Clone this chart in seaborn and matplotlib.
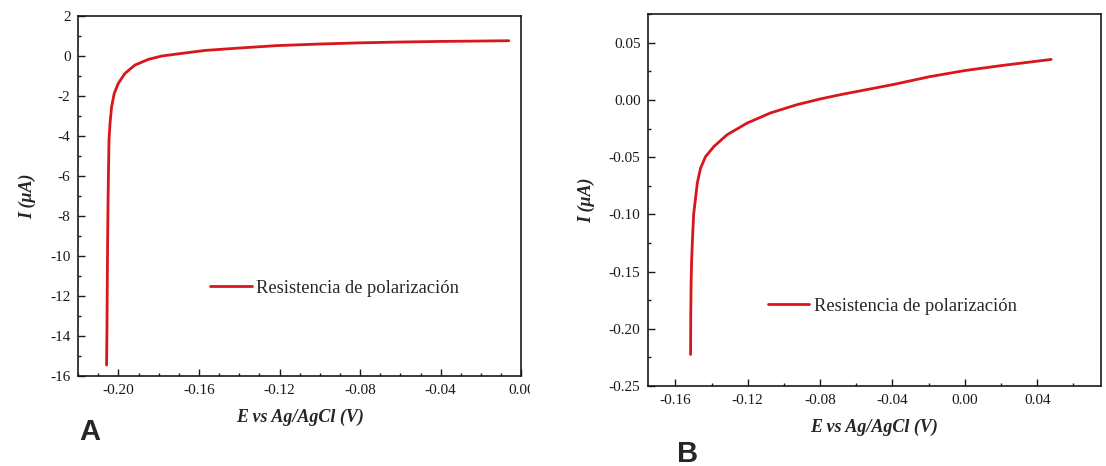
import numpy as np
import pandas as pd
import matplotlib
matplotlib.use("Agg")
import matplotlib.pyplot as plt
from matplotlib.ticker import MultipleLocator, FormatStrFormatter
from matplotlib.transforms import Bbox, TransformedBbox
import seaborn as sns

# Panel A data (E in V, I in uA)
E_a = [-0.2059, -0.2057, -0.2056, -0.2054, -0.2052, -0.2050, -0.2047, -0.2042, -0.2034,
       -0.2021, -0.2001, -0.1968, -0.1918, -0.1852, -0.1786, -0.1687, -0.1570, -0.1400,
       -0.1215, -0.1000, -0.0800, -0.0600, -0.0400, -0.0200, -0.0062]
I_a = [-15.45, -13.5, -12.0, -9.45, -7.5, -6.0, -4.2, -3.37, -2.53,
       -1.87, -1.37, -0.87, -0.45, -0.17, 0.0, 0.13, 0.28, 0.40,
       0.52, 0.60, 0.66, 0.70, 0.73, 0.75, 0.765]

# Panel B data
E_b = [-0.1516, -0.1515, -0.1513, -0.1510, -0.1505, -0.1499, -0.1494, -0.1479, -0.1461,
       -0.1433, -0.1387, -0.1314, -0.1203, -0.1075, -0.0927, -0.0798, -0.0688, -0.0398,
       -0.0199, 0.0001, 0.0200, 0.0400, 0.0477]
I_b = [-0.2225, -0.190, -0.160, -0.140, -0.120, -0.100, -0.0933, -0.0728, -0.0597,
       -0.0495, -0.0407, -0.0304, -0.0202, -0.0114, -0.0041, 0.0009, 0.0046, 0.0134,
       0.0202, 0.0257, 0.0300, 0.0339, 0.0354]

xticks_a = [-0.20, -0.16, -0.12, -0.08, -0.04, 0.00]
yticks_a = [-16, -14, -12, -10, -8, -6, -4, -2, 0, 2]
xticks_b = [-0.16, -0.12, -0.08, -0.04, 0.00, 0.04]
yticks_b = [-0.25, -0.20, -0.15, -0.10, -0.05, 0.00, 0.05]

legend_label = "Resistencia de polarización"
xlabel = "E vs Ag/AgCl (V)"
ylabel = "I (μA)"

sns.set_style("ticks")
plt.rcParams['font.family'] = ['Liberation Serif', 'DejaVu Serif']

fig = plt.figure(figsize=(11.06, 4.66), dpi=100)
axA = fig.add_axes([0.0707, 0.1931, 0.4006, 0.7725])
axB = fig.add_axes([0.5861, 0.1717, 0.4090, 0.798])

red = "#d8161c"

dfA = pd.DataFrame({"E": E_a, "I": I_a, "s": legend_label})
dfB = pd.DataFrame({"E": E_b, "I": I_b, "s": legend_label})

sns.lineplot(data=dfA, x="E", y="I", hue="s", palette=[red], sort=False,
             linewidth=2.0, ax=axA, estimator=None)
sns.lineplot(data=dfB, x="E", y="I", hue="s", palette=[red], sort=False,
             linewidth=2.0, ax=axB, estimator=None)

def style(ax, xlim, ylim, xt, yt, xminor, yminor, xfmt, yfmt, leg_anchor):
    ax.set_xlim(*xlim)
    ax.set_ylim(*ylim)
    ax.set_xticks(xt)
    ax.set_yticks(yt)
    ax.xaxis.set_minor_locator(MultipleLocator(xminor))
    ax.yaxis.set_minor_locator(MultipleLocator(yminor))
    ax.xaxis.set_major_formatter(FormatStrFormatter(xfmt))
    ax.yaxis.set_major_formatter(FormatStrFormatter(yfmt))
    ax.tick_params(which='major', direction='in', length=5, width=1, labelsize=11,
                   colors='#1a1a1a', pad=5.5)
    ax.tick_params(which='minor', direction='in', length=2.5, width=1, colors='#1a1a1a')
    for sp in ax.spines.values():
        sp.set_visible(True)
        sp.set_linewidth(1.2)
        sp.set_color('#1a1a1a')
    ax.set_xlabel(xlabel, fontsize=13, fontweight='bold', fontstyle='italic', labelpad=9)
    ax.set_ylabel(ylabel, fontsize=13, fontweight='bold', fontstyle='italic', labelpad=10)
    leg = ax.legend(loc='center left', bbox_to_anchor=leg_anchor, frameon=False,
                    borderpad=0, borderaxespad=0, handlelength=2.27, handletextpad=0.22,
                    fontsize=13.3)
    for h in leg.get_lines():
        h.set_linewidth(2.0)

style(axA, (-0.220, 0.0), (-16, 2), xticks_a, yticks_a, 0.01, 1, '%.2f', '%d', (0.2975, 0.2436))
style(axB, (-0.175, 0.075), (-0.25, 0.075), xticks_b, yticks_b, 0.02, 0.025, '%.2f', '%.2f', (0.2638, 0.215))

fig.text(79/1106, 1 - 440/466, "A", fontsize=21, fontweight='bold', family='Liberation Sans')
fig.text(677/1106, 1 - 462/466, "B", fontsize=21, fontweight='bold', family='Liberation Sans')

# The left panel in the reference is cropped just right of its last tick label
fig.canvas.draw()
clip = TransformedBbox(Bbox([[0, 0], [530/1106, 1]]), fig.transFigure)
for lab in axA.get_xticklabels():
    lab.set_clip_box(clip)
    lab.set_clip_on(True)

fig.savefig("out.png", dpi=100)
